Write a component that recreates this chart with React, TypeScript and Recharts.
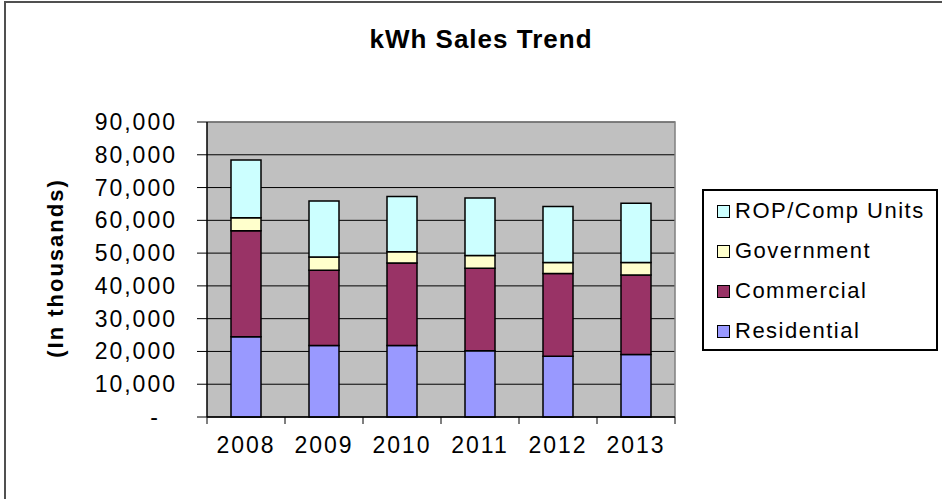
import React from 'react';
import { BarChart, Bar, XAxis, YAxis, CartesianGrid, usePlotArea } from 'recharts';

// kWh sales by customer class, in thousands
const years = ['2008', '2009', '2010', '2011', '2012', '2013'];
const residential = [24500, 21800, 21800, 20200, 18500, 19100];
const commercial = [32300, 23000, 25200, 25200, 25300, 24200];
const government = [4000, 4000, 3400, 3900, 3300, 3800];
const ropComp = [17600, 17100, 16900, 17500, 17100, 18100];
const yTicks = [0, 10000, 20000, 30000, 40000, 50000, 60000, 70000, 80000, 90000];

const series = [
  { key: 'residential', name: 'Residential', color: '#9999FF', values: residential },
  { key: 'commercial', name: 'Commercial', color: '#993366', values: commercial },
  { key: 'government', name: 'Government', color: '#FFFFCC', values: government },
  { key: 'rop', name: 'ROP/Comp Units', color: '#CCFFFF', values: ropComp },
];

const data = years.map((year, i) => {
  const row: Record<string, string | number> = { year };
  series.forEach((s) => {
    row[s.key] = s.values[i];
  });
  return row;
});

const FONT = '"Liberation Sans", Arial, sans-serif';

if (typeof document !== 'undefined') {
  document.body.style.margin = '0';
}

const YTick = (props: any) => {
  const { x, y, payload } = props;
  const isZero = payload.value === 0;
  return (
    <text
      x={x}
      y={y}
      dx={isZero ? -17 : 0}
      textAnchor="end"
      dominantBaseline="central"
      fontFamily={FONT}
      fontSize={23}
      letterSpacing={2}
      fill="#000"
    >
      {isZero ? '-' : payload.value.toLocaleString('en-US')}
    </text>
  );
};

// Excel puts the category ticks between the columns, not under them
const CategoryTicks = () => {
  const area = usePlotArea();
  if (!area) return null;
  const step = area.width / years.length;
  const bottom = area.y + area.height;
  return (
    <g>
      {[...years, ''].map((_, i) => (
        <line
          key={i}
          x1={area.x + i * step}
          x2={area.x + i * step}
          y1={bottom}
          y2={bottom + 7}
          stroke="#000"
          strokeWidth={1}
        />
      ))}
      <polyline
        points={`${area.x},${area.y} ${area.x + area.width},${area.y} ${area.x + area.width},${bottom}`}
        fill="none"
        stroke="#808080"
        strokeWidth={1.5}
      />
    </g>
  );
};

const App: React.FC = () => {
  return (
    <div
      style={{
        position: 'relative',
        width: 942,
        height: 499,
        overflow: 'hidden',
        background: '#fff',
        fontFamily: FONT,
      }}
    >
      <div style={{ position: 'absolute', left: 0, top: 0 }}>
        <BarChart
          width={942}
          height={499}
          data={data}
          margin={{ top: 122, right: 267, bottom: 42, left: 0 }}
          barSize={30}
        >
          <CartesianGrid
            vertical={false}
            fill="#C0C0C0"
            fillOpacity={1}
            stroke="#000"
            strokeWidth={1}
          />
          <XAxis
            dataKey="year"
            height={40}
            tickLine={false}
            tickSize={0}
            tickMargin={20}
            axisLine={{ stroke: '#000', strokeWidth: 1.5 }}
            tick={{ fill: '#000', fontSize: 23, fontFamily: FONT, letterSpacing: 2 }}
          />
          <YAxis
            width={207}
            domain={[0, 90000]}
            ticks={yTicks}
            interval={0}
            tickSize={10}
            tickMargin={20}
            tickLine={{ stroke: '#000' }}
            axisLine={{ stroke: '#000', strokeWidth: 1.5 }}
            tick={<YTick />}
          />
          {series.map((s) => (
            <Bar
              key={s.key}
              dataKey={s.key}
              name={s.name}
              stackId="kwh"
              fill={s.color}
              stroke="#000"
              strokeWidth={1.5}
              isAnimationActive={false}
            />
          ))}
          <CategoryTicks />
        </BarChart>
      </div>

      <div
        style={{
          position: 'absolute',
          left: 0,
          width: 962,
          top: 24,
          textAlign: 'center',
          fontSize: 26,
          fontWeight: 'bold',
          letterSpacing: 1,
          color: '#000',
          zIndex: 5,
        }}
      >
        kWh Sales Trend
      </div>
      <div
        style={{
          position: 'absolute',
          left: 56,
          top: 268,
          transform: 'translate(-50%, -50%) rotate(-90deg)',
          whiteSpace: 'nowrap',
          fontSize: 22,
          fontWeight: 'bold',
          letterSpacing: 2,
          color: '#000',
          zIndex: 5,
        }}
      >
        (In thousands)
      </div>

      <div
        style={{
          position: 'absolute',
          left: 702,
          top: 189,
          width: 232,
          height: 158,
          border: '2px solid #000',
          background: '#fff',
          zIndex: 5,
        }}
      >
        {[...series].reverse().map((s) => (
          <div
            key={s.key}
            style={{ display: 'flex', alignItems: 'center', height: 40, paddingLeft: 13 }}
          >
            <span
              style={{
                display: 'inline-block',
                width: 11,
                height: 11,
                background: s.color,
                border: '1.5px solid #000',
                marginRight: 5,
              }}
            />
            <span style={{ fontSize: 22, letterSpacing: 1.5, color: '#000' }}>{s.name}</span>
          </div>
        ))}
      </div>

      <div
        style={{
          position: 'absolute',
          left: 4,
          top: 1,
          width: 960,
          height: 520,
          borderLeft: '2px solid #505050',
          borderTop: '2px solid #505050',
          pointerEvents: 'none',
          zIndex: 10,
        }}
      />
    </div>
  );
};

export default App;
